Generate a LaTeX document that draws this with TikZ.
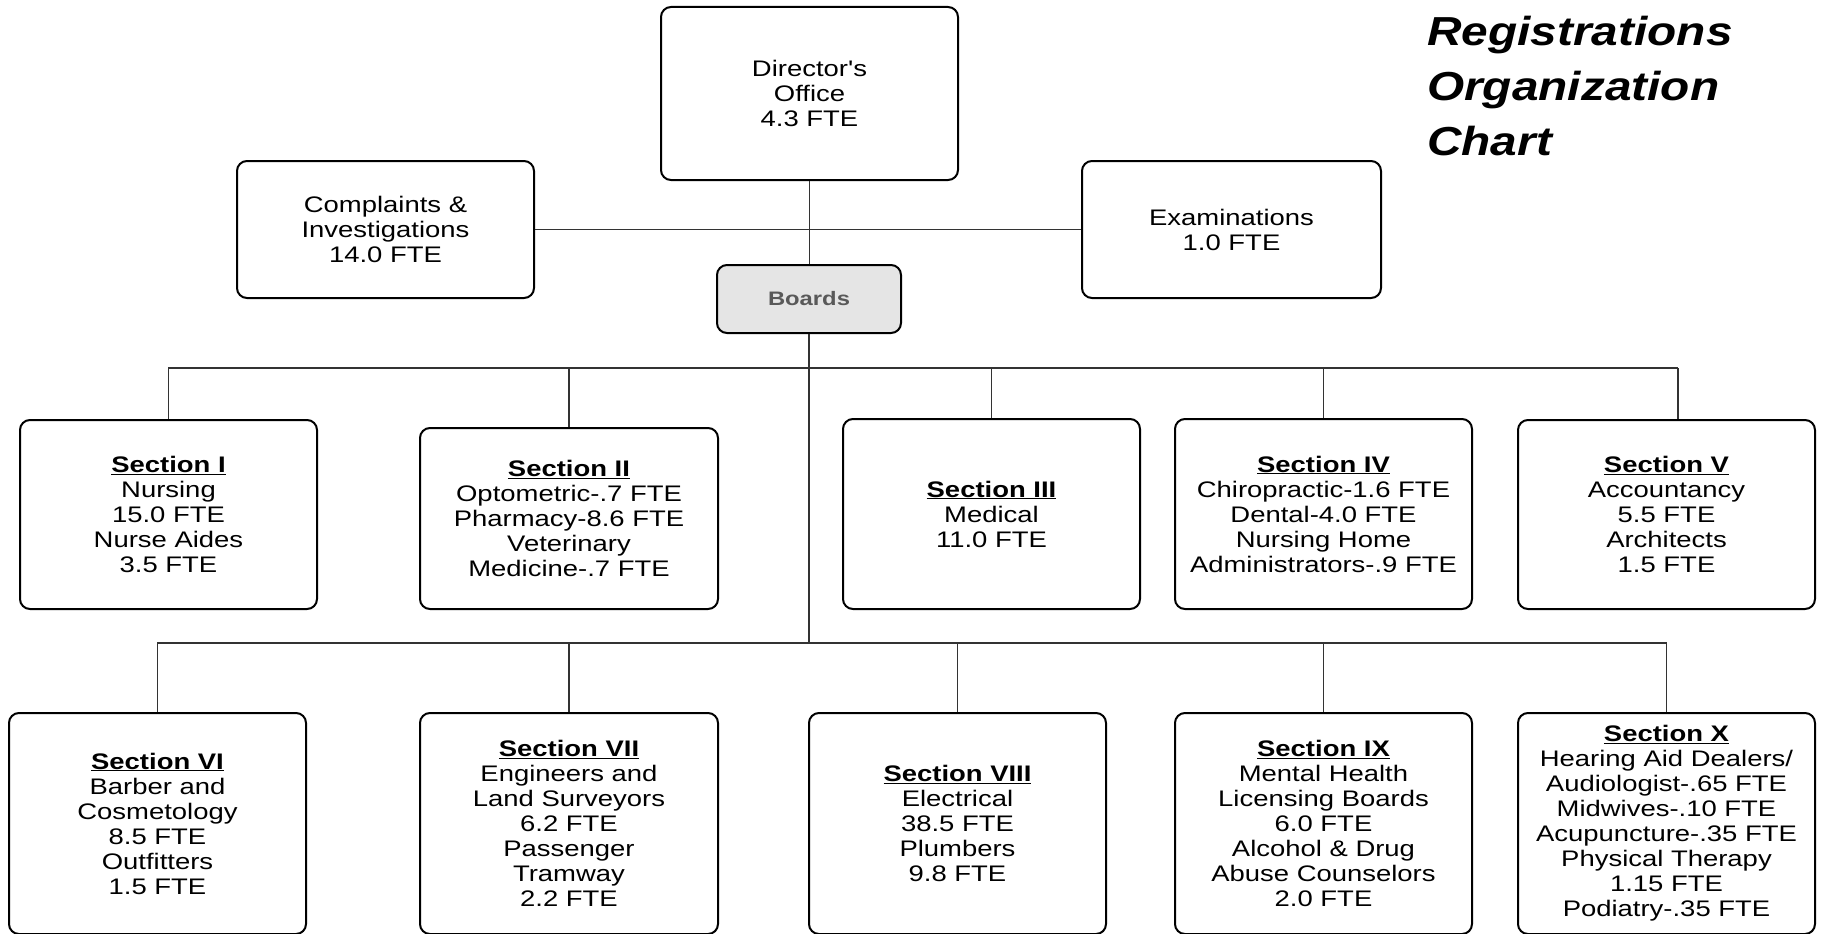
\documentclass[tikz,border=0pt]{standalone}
\usepackage{fontspec}
\newfontfamily\chartfont[FakeStretch=1.22]{Liberation Sans}
\newfontfamily\titlefont[FakeStretch=1.18]{Liberation Sans}
\newcommand\sechead[1]{\underline{\textbf{#1}}}
\begin{document}
\begin{tikzpicture}[x=1pt,y=-1pt,
  box/.style={draw=black, line width=2pt, rounded corners=10pt, fill=white,
    inner sep=0pt, align=center, text=black,
    font=\chartfont\fontsize{22.5}{25}\selectfont},
  conn/.style={draw=black!80, line width=1.2pt},
  titletext/.style={anchor=base west, inner sep=0pt,
    font=\titlefont\fontsize{40.5}{56}\selectfont\bfseries\itshape}]
\useasboundingbox (0,0) rectangle (1821,934);
\clip (0,0) rectangle (1821,934);
\fill[white] (0,0) rectangle (1821,934);

% title
\node[titletext] (title1) at (1427,46) {Registrations};
\node[titletext] (title2) at (1427,100.5) {Organization};
\node[titletext] (title3) at (1427,155) {Chart};

% top level
\node[box, minimum width=297pt, minimum height=173pt] (dir) at (809.5,93.5)
  {Director's\\Office\\4.3 FTE};
\node[box, minimum width=297pt, minimum height=137pt] (comp) at (385.5,229.5)
  {Complaints \&\\Investigations\\14.0 FTE};
\node[box, minimum width=299pt, minimum height=137pt] (exam) at (1231.5,229.5)
  {Examinations\\1.0 FTE};
\node[box, fill=black!10, minimum width=184pt, minimum height=68pt,
  text=black!65, font=\chartfont\fontsize{19.5}{22}\selectfont\bfseries] (boards) at (809,299) {Boards};

% row 1
\node[box, minimum width=297pt, minimum height=189pt] (s1) at (168.5,514.5)
  {\sechead{Section I}\\Nursing\\15.0 FTE\\Nurse Aides\\3.5 FTE};
\node[box, minimum width=298pt, minimum height=181pt] (s2) at (569,518.5)
  {\sechead{Section II}\\Optometric-.7 FTE\\Pharmacy-8.6 FTE\\Veterinary\\Medicine-.7 FTE};
\node[box, minimum width=297pt, minimum height=190pt] (s3) at (991.5,514)
  {\sechead{Section III}\\Medical\\11.0 FTE};
\node[box, minimum width=297pt, minimum height=190pt] (s4) at (1323.5,514)
  {\sechead{Section IV}\\Chiropractic-1.6 FTE\\Dental-4.0 FTE\\Nursing Home\\Administrators-.9 FTE};
\node[box, minimum width=297pt, minimum height=189pt] (s5) at (1666.5,514.5)
  {\sechead{Section V}\\Accountancy\\5.5 FTE\\Architects\\1.5 FTE};

% row 2
\node[box, minimum width=297pt, minimum height=221pt] (s6) at (157.5,823.5)
  {\sechead{Section VI}\\Barber and\\Cosmetology\\8.5 FTE\\Outfitters\\1.5 FTE};
\node[box, minimum width=298pt, minimum height=221pt] (s7) at (569,823.5)
  {\sechead{Section VII}\\Engineers and\\Land Surveyors\\6.2 FTE\\Passenger\\Tramway\\2.2 FTE};
\node[box, minimum width=297pt, minimum height=221pt] (s8) at (957.5,823.5)
  {\sechead{Section VIII}\\Electrical\\38.5 FTE\\Plumbers\\9.8 FTE};
\node[box, minimum width=297pt, minimum height=221pt] (s9) at (1323.5,823.5)
  {\sechead{Section IX}\\Mental Health\\Licensing Boards\\6.0 FTE\\Alcohol \& Drug\\Abuse Counselors\\2.0 FTE};
\node[box, minimum width=297pt, minimum height=221pt] (s10) at (1666.5,823.5)
  {\sechead{Section X}\\Hearing Aid Dealers/\\Audiologist-.65 FTE\\Midwives-.10 FTE\\Acupuncture-.35 FTE\\Physical Therapy\\1.15 FTE\\Podiatry-.35 FTE};

% bus coordinates
\coordinate (b1L) at (168,368);
\coordinate (b1R) at (1678,368);
\coordinate (b2L) at (157,643);
\coordinate (b2R) at (1667,643);
\coordinate (k5) at (1678,368);

% connectors
\draw[conn] (dir.south) -- (dir.south |- boards.north);
\draw[conn] (comp.east) -- (exam.west);
\draw[conn] (boards.south) -- (boards.south |- b2L);
\draw[conn] (b1L) -- (b1R);
\draw[conn] (b2L) -- (b2R);
\draw[conn] (s1.north |- b1L) -- (s1.north);
\draw[conn] (s2.north |- b1L) -- (s2.north);
\draw[conn] (s3.north |- b1L) -- (s3.north);
\draw[conn] (s4.north |- b1L) -- (s4.north);
\draw[conn] (k5) -- (k5 |- s5.north);
\draw[conn] (s6.north |- b2L) -- (s6.north);
\draw[conn] (s7.north |- b2L) -- (s7.north);
\draw[conn] (s8.north |- b2L) -- (s8.north);
\draw[conn] (s9.north |- b2L) -- (s9.north);
\draw[conn] (s10.north |- b2L) -- (s10.north);
\end{tikzpicture}
\end{document}
